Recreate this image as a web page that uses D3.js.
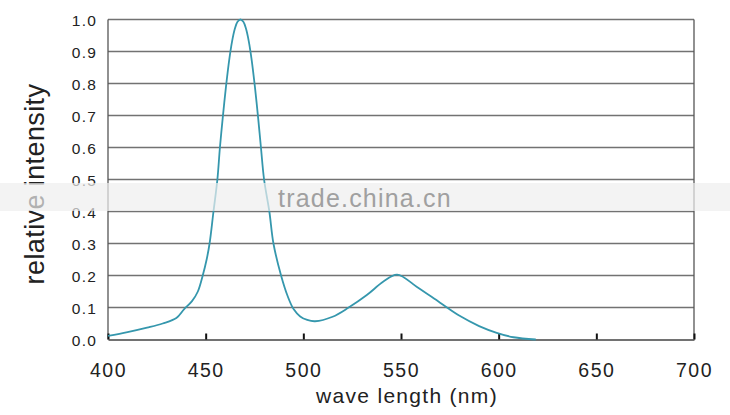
<!DOCTYPE html>
<html><head><meta charset="utf-8">
<script src="https://cdn.jsdelivr.net/npm/d3@7"></script>
<style>html,body{margin:0;padding:0;background:#fff;}svg{display:block;}</style>
</head><body>
<svg id="c" width="730" height="415"></svg>
<script>
const wavelengths = [400,410,420,428,435,439,443,446,448.5,450.5,452,454,456,457.3,458.7,460.4,462.2,463.5,464.9,466.3,467.8,469.3,470.7,472.1,473.4,475.2,476.9,478.3,479.9,482.6,484.7,488.6,492,495,498.4,502,506,515,523,532.5,541,548,558,570,580,590,599,607.6,619];
const intensity   = [0.011,0.023,0.037,0.05,0.067,0.095,0.12,0.15,0.2,0.25,0.3,0.4,0.5,0.6,0.69,0.79,0.88,0.931,0.97,0.993,1.0,0.993,0.97,0.931,0.88,0.79,0.69,0.6,0.5,0.4,0.3,0.2,0.135,0.095,0.072,0.061,0.057,0.071,0.099,0.139,0.181,0.203,0.165,0.115,0.074,0.042,0.021,0.007,0.0];
const xTicks = [400,450,500,550,600,650,700];
const yTicks = [0,0.1,0.2,0.3,0.4,0.5,0.6,0.7,0.8,0.9,1.0];
const xTitle = "wave length (nm)";
const yTitle = "relative intensity";

const svg = d3.select("#c");
const x = d3.scaleLinear().domain([400,700]).range([108,694]);
const y = d3.scaleLinear().domain([0,1]).range([339.5,19.5]);
const font = "Arial, 'Liberation Sans', sans-serif";

// gridlines
svg.append("g").selectAll("line").data(yTicks.filter(d=>d>0)).join("line")
  .attr("x1",x(400)).attr("x2",x(700))
  .attr("y1",d=>y(d)).attr("y2",d=>y(d))
  .attr("stroke","#727272").attr("stroke-width",1.5);

// right border & left axis
svg.append("line").attr("x1",x(700)).attr("x2",x(700)).attr("y1",y(1)).attr("y2",y(0))
  .attr("stroke","#555").attr("stroke-width",1.3);
svg.append("line").attr("x1",x(400)).attr("x2",x(400)).attr("y1",y(1)).attr("y2",y(0))
  .attr("stroke","#555").attr("stroke-width",1.3);

// x axis
const xa = svg.append("g").attr("transform",`translate(0,${y(0)})`)
  .call(d3.axisBottom(x).tickValues(xTicks).tickSizeInner(-6).tickSizeOuter(0).tickPadding(10));
xa.select(".domain").attr("stroke","#727272").attr("stroke-width",2);
xa.selectAll(".tick line").attr("stroke","#111").attr("stroke-width",2);
xa.selectAll(".tick text").attr("font-family",font).attr("font-size",19.5).attr("fill","#222")
  .attr("letter-spacing",1.5).attr("dy",0).attr("y",37);

// y axis labels
const ya = svg.append("g").attr("transform",`translate(${x(400)},0)`)
  .call(d3.axisLeft(y).tickValues(yTicks).tickSize(0).tickPadding(11).tickFormat(d3.format(".1f")));
ya.select(".domain").remove();
ya.selectAll(".tick text").attr("font-family",font).attr("font-size",15.5).attr("fill","#222")
  .attr("letter-spacing",1.2).attr("dy","0.4em");

// curve
const line = d3.line().x((d,i)=>x(wavelengths[i])).y(d=>y(d)).curve(d3.curveCatmullRom.alpha(0.5));
svg.append("path").datum(intensity).attr("d",line)
  .attr("fill","none").attr("stroke","#3597ad").attr("stroke-width",1.8);

// titles
svg.append("text").attr("x",407).attr("y",403).attr("text-anchor","middle")
  .attr("font-family",font).attr("font-size",21).attr("fill","#222").attr("letter-spacing",1.3).text(xTitle);
svg.append("text").attr("transform","translate(44,184) rotate(-90)").attr("text-anchor","middle")
  .attr("font-family",font).attr("font-size",27).attr("fill","#222").attr("letter-spacing",0.4).text(yTitle);

// watermark band
svg.append("rect").attr("x",0).attr("y",183).attr("width",730).attr("height",28)
  .attr("fill","#eeeeee").attr("opacity",0.7);
svg.append("text").attr("x",278).attr("y",207).attr("font-family",font).attr("font-size",25)
  .attr("fill","#a0a0a0").attr("letter-spacing",1.2).text("trade.china.cn");
</script>
</body></html>
